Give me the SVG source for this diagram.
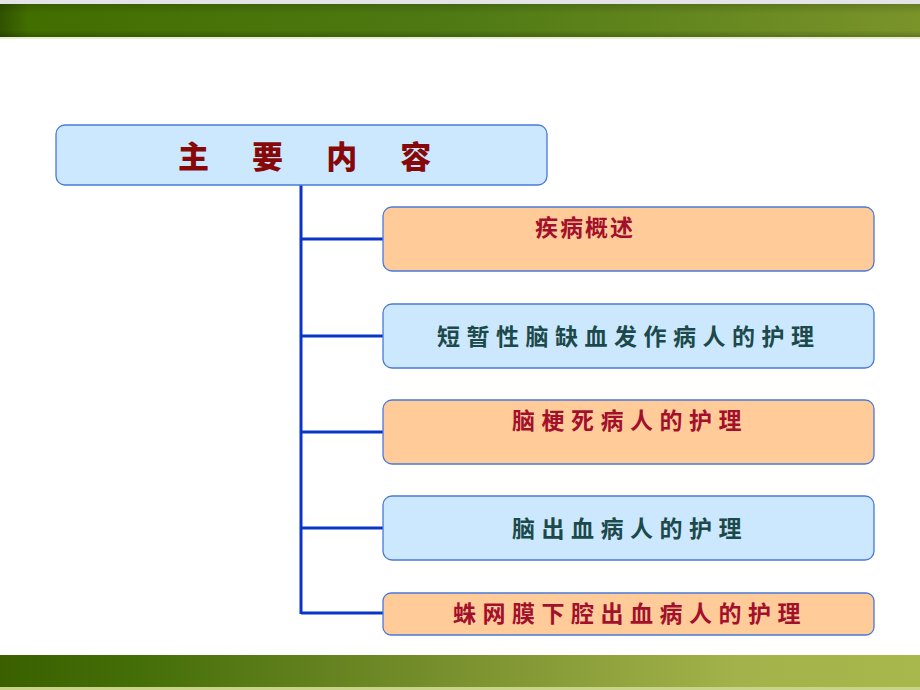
<svg xmlns="http://www.w3.org/2000/svg" width="920" height="690" viewBox="0 0 920 690">
<defs>
<linearGradient id="gTop" x1="0" y1="0" x2="1" y2="0">
<stop offset="0" stop-color="#2f5200"/>
<stop offset="0.03" stop-color="#426e00"/>
<stop offset="0.5" stop-color="#4f7a14"/>
<stop offset="1" stop-color="#7a942a"/>
</linearGradient>
<linearGradient id="gBot" x1="0" y1="0" x2="1" y2="0">
<stop offset="0" stop-color="#3a6000"/>
<stop offset="0.15" stop-color="#446e08"/>
<stop offset="0.45" stop-color="#738c2a"/>
<stop offset="0.8" stop-color="#a3b24a"/>
<stop offset="1" stop-color="#a8b84c"/>
</linearGradient>
<linearGradient id="gShade" x1="0" y1="0" x2="0" y2="1">
<stop offset="0" stop-color="#000" stop-opacity="0.15"/>
<stop offset="0.3" stop-color="#000" stop-opacity="0"/>
<stop offset="0.8" stop-color="#000" stop-opacity="0"/>
<stop offset="1" stop-color="#000" stop-opacity="0.2"/>
</linearGradient>
</defs>
<style>
.box{stroke:#4a78dc;stroke-width:1.3}
.or{fill:#ffcc99}
.bl{fill:#cce8ff}
.t{font-family:"Noto Sans CJK SC","Noto Sans CJK TC",sans-serif;font-weight:bold;font-size:23px;letter-spacing:6.5px}
.tr{fill:#a3102c}
.tb{fill:#1c4a4a}
.conn{stroke:#0a35c8;stroke-width:3;fill:none}
</style>
<rect x="0" y="0" width="920" height="690" fill="#ffffff"/>
<rect x="0" y="0" width="920" height="4" fill="#e4e4e8"/>
<rect x="0" y="4" width="920" height="33" fill="url(#gTop)"/>
<rect x="0" y="4" width="920" height="33" fill="url(#gShade)"/>
<rect x="0" y="37" width="920" height="2" fill="#e8eed0"/>
<rect x="0" y="655" width="920" height="34" fill="url(#gBot)"/>
<rect x="0" y="687" width="920" height="3" fill="#c8d488"/>
<g id="connectors">
<path class="conn" d="M301,185 V614 M301,239 H383 M301,336 H383 M301,432 H383 M301,528 H383 M301,613 H383"/>
</g>
<g id="title">
<rect class="box bl" x="56" y="125" width="491" height="60" rx="9"/>
<text x="178" y="168" font-family="Noto Sans CJK SC,sans-serif" font-weight="900" font-size="31" letter-spacing="13" word-spacing="10" fill="#860808">主 要 内 容</text>
</g>
<g id="n1">
<rect class="box or" x="383" y="207" width="491" height="64" rx="9"/>
<text class="t tr" x="535" y="236" style="letter-spacing:2px">疾病概述</text>
</g>
<g id="n2">
<rect class="box bl" x="383" y="304" width="491" height="64" rx="9"/>
<text class="t tb" x="437" y="345">短暂性脑缺血发作病人的护理</text>
</g>
<g id="n3">
<rect class="box or" x="383" y="400" width="491" height="64" rx="9"/>
<text class="t tr" x="512" y="429">脑梗死病人的护理</text>
</g>
<g id="n4">
<rect class="box bl" x="383" y="496" width="491" height="64" rx="9"/>
<text class="t tb" x="512" y="537">脑出血病人的护理</text>
</g>
<g id="n5">
<rect class="box or" x="383" y="593" width="491" height="42" rx="8"/>
<text class="t tr" x="453" y="622">蛛网膜下腔出血病人的护理</text>
</g>
</svg>
